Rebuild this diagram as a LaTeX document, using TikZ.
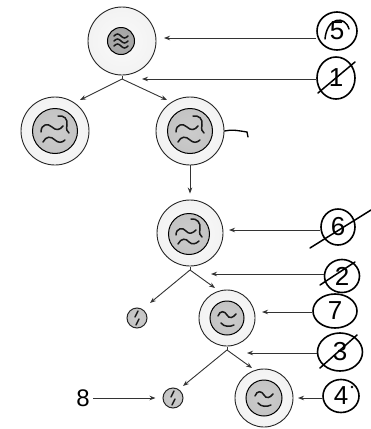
\documentclass[tikz,border=0pt]{standalone}
\usepackage{fontspec}
\setmainfont{Liberation Sans}
\usetikzlibrary{arrows.meta,shapes.geometric}
% soft radial shadings: light body with a darker rim
\pgfdeclareradialshading{cellshade}{\pgfpoint{0bp}{0bp}}{%
  color(0bp)=(black!2); color(26bp)=(black!5); color(34bp)=(black!11);
  color(42bp)=(black!18); color(47bp)=(black!27); color(50bp)=(black!45)}
\pgfdeclareradialshading{nucshade}{\pgfpoint{0bp}{0bp}}{%
  color(0bp)=(black!20); color(30bp)=(black!24); color(42bp)=(black!33);
  color(50bp)=(black!55)}
\pgfdeclareradialshading{smallnuc}{\pgfpoint{0bp}{0bp}}{%
  color(0bp)=(black!32); color(30bp)=(black!36); color(50bp)=(black!58)}
\begin{document}
\begin{tikzpicture}[x=1pt,y=-1pt,
  cellbody/.style={circle,draw=black!85,line width=0.9pt,inner sep=0pt,minimum size=#1,
    shading=cellshade},
  nucleus/.style={circle,draw=black,line width=1pt,inner sep=0pt,minimum size=#1,
    shading=nucshade},
  polar/.style={circle,draw=black!85,line width=1pt,inner sep=0pt,minimum size=20pt,
    shading=nucshade},
  chromo/.style={line width=1.5pt,line cap=round,black!90},
  arr/.style={-{Stealth[length=6pt,width=4.5pt]},line width=0.9pt,black!80},
  tag/.style={ellipse,draw,line width=1.6pt,inner sep=0pt,font=\fontsize{26}{26}\selectfont},
  hand/.style={line width=1.5pt,line cap=round}]

\fill[white] (0,0) rectangle (371,429);
\useasboundingbox (0,0) rectangle (371,429);

% ---- cells ----
\node[cellbody=68pt] (c1) at (122,41) {};
\node[nucleus=27pt,shading=smallnuc] (n1) at (121,41) {};
\begin{scope}[shift={(n1.center)}]
  \foreach \dy in {-5,0,5}
    \draw[chromo] (-7,\dy) sin (-3.5,\dy-2) cos (0,\dy) sin (3.5,\dy+2) cos (7,\dy);
\end{scope}

\node[cellbody=68pt] (c2) at (55,131) {};
\node[nucleus=45pt] (n2) at (55,131) {};
\begin{scope}[shift={(n2.center)}]
  \draw[chromo] (-14,1) .. controls (-14,-7) and (-7,-8) .. (-3,-4) .. controls (1,0) and (5,-1) .. (8,-5);
  \draw[chromo] (-12,11) .. controls (-9,5) and (-4,5) .. (0,9) .. controls (3,12) and (7,12) .. (10,9);
  \draw[chromo] (3,-15) .. controls (9,-16) and (13,-12) .. (12,-6) .. controls (11,-2) and (12,1) .. (14,2);
\end{scope}

\node[cellbody=68pt] (c3) at (190,131) {};
\node[nucleus=45pt] (n3) at (190,131) {};
\begin{scope}[shift={(n3.center)}]
  \draw[chromo] (-14,1) .. controls (-14,-7) and (-7,-8) .. (-3,-4) .. controls (1,0) and (5,-1) .. (8,-5);
  \draw[chromo] (-12,11) .. controls (-9,5) and (-4,5) .. (0,9) .. controls (3,12) and (7,12) .. (10,9);
  \draw[chromo] (3,-15) .. controls (9,-16) and (13,-12) .. (12,-6) .. controls (11,-2) and (12,1) .. (14,2);
\end{scope}
\draw[hand,line width=1.3pt] (c3.east) .. controls (232,129) and (240,131) .. (247,132) -- (248,137);

\node[cellbody=66pt] (c4) at (190,233) {};
\node[nucleus=41pt] (n4) at (189,234) {};
\begin{scope}[shift={(n4.center)}]
  \draw[chromo] (-13,1) .. controls (-13,-6) and (-6,-7) .. (-3,-3) .. controls (0,1) and (4,-1) .. (7,-4);
  \draw[chromo] (-11,10) .. controls (-8,4) and (-3,4) .. (0,8) .. controls (3,11) and (7,10) .. (10,7);
  \draw[chromo] (2,-15) .. controls (8,-16) and (12,-11) .. (11,-5) .. controls (10,-1) and (11,2) .. (13,3);
\end{scope}

\node[polar] (p1) at (137,318) {};
\node[cellbody=56pt] (c5) at (227,318) {};
\node[nucleus=34pt] (n5) at (227,318) {};
\node[polar] (p2) at (173,398) {};
\node[cellbody=58pt] (c6) at (264,398) {};
\node[nucleus=36pt] (n6) at (264,398) {};

\foreach \n in {n5,n6}{
  \begin{scope}[shift={(\n.center)}]
    \draw[chromo] (-9,-2) .. controls (-7,-8) and (-2,-7) .. (0,-3) .. controls (2,1) and (6,0) .. (9,-4);
    \draw[chromo] (-6,5) .. controls (-3,9) and (3,9) .. (7,7);
  \end{scope}}
\foreach \p in {p1,p2}{
  \begin{scope}[shift={(\p.center)}]
    \draw[chromo,line width=1.4pt] (1,-7) .. controls (-2,-5) and (1,-3) .. (-2,-1);
    \draw[chromo,line width=1.4pt] (2,1) .. controls (-1,3) and (2,5) .. (-1,7);
  \end{scope}}

% ---- division arrows ----
\coordinate (b1) at (122,79);
\coordinate (b2) at (190,270);
\coordinate (b3) at (227,350);
\coordinate (t1) at (80,100);
\coordinate (t2) at (167,100);
\coordinate (t3) at (150,303);
\coordinate (t4) at (215,288);
\coordinate (t5) at (183,386);
\coordinate (t6) at (252,368);
\foreach \b/\t in {b1/t1,b1/t2,b2/t3,b2/t4,b3/t5,b3/t6}
  \draw[arr] (\b) -- (\t);
\foreach \b in {b1,b2,b3}
  \draw[line width=0.9pt,black!80] (\b) -- ++(0,-3);
\draw[arr,shorten >=6pt] (c3.south) -- (c4.north);

% ---- numbered labels ----
\node[tag,minimum width=40pt,minimum height=38pt] (L5) at (337,31) {5};
\draw[hand] ([shift={(-12,8)}]L5.center) .. controls ([shift={(-10,-14)}]L5.center) and ([shift={(8,-16)}]L5.center) .. ([shift={(12,-2)}]L5.center);
\node[tag,minimum width=38pt,minimum height=42pt] (L1) at (336,78) {1};
\draw[hand] ([shift={(-18,15)}]L1.center) -- ([shift={(19,-16)}]L1.center);
\node[tag,minimum width=34pt,minimum height=36pt] (L6) at (338,227) {6};
\draw[hand] ([shift={(-28,21)}]L6.center) -- ([shift={(33,-17)}]L6.center);
\node[tag,minimum width=35pt,minimum height=33pt] (L2) at (342,276) {2};
\draw[hand] ([shift={(-22,9)}]L2.center) -- ([shift={(13,-14)}]L2.center);
\node[tag,minimum width=44pt,minimum height=34pt] (L7) at (335,311) {7};
\node[tag,minimum width=45pt,minimum height=38pt] (L3) at (340,352) {3};
\draw[hand] ([shift={(-20,16)}]L3.center) -- ([shift={(17,-17)}]L3.center);
\node[tag,minimum width=36pt,minimum height=33pt] (L4) at (341,396) {4};
\fill ([shift={(11,-9)}]L4.center) circle (1.4pt);
\node[font=\fontsize{24}{24}\selectfont] (L8) at (83,398) {8};

\coordinate (a5) at (164,38);
\coordinate (a1) at (142,79);
\coordinate (a6) at (229,230);
\coordinate (a2) at (211,274);
\coordinate (a7) at (262,312);
\coordinate (a3) at (247,353);
\coordinate (a4) at (298,398);
\foreach \l/\a in {L5/a5,L1/a1,L6/a6,L2/a2,L7/a7,L3/a3,L4/a4}
  \draw[arr] (\l.west |- \a) -- (\a);
\draw[arr,shorten >=7pt] (L8.east) -- (p2.west);
\end{tikzpicture}
\end{document}
